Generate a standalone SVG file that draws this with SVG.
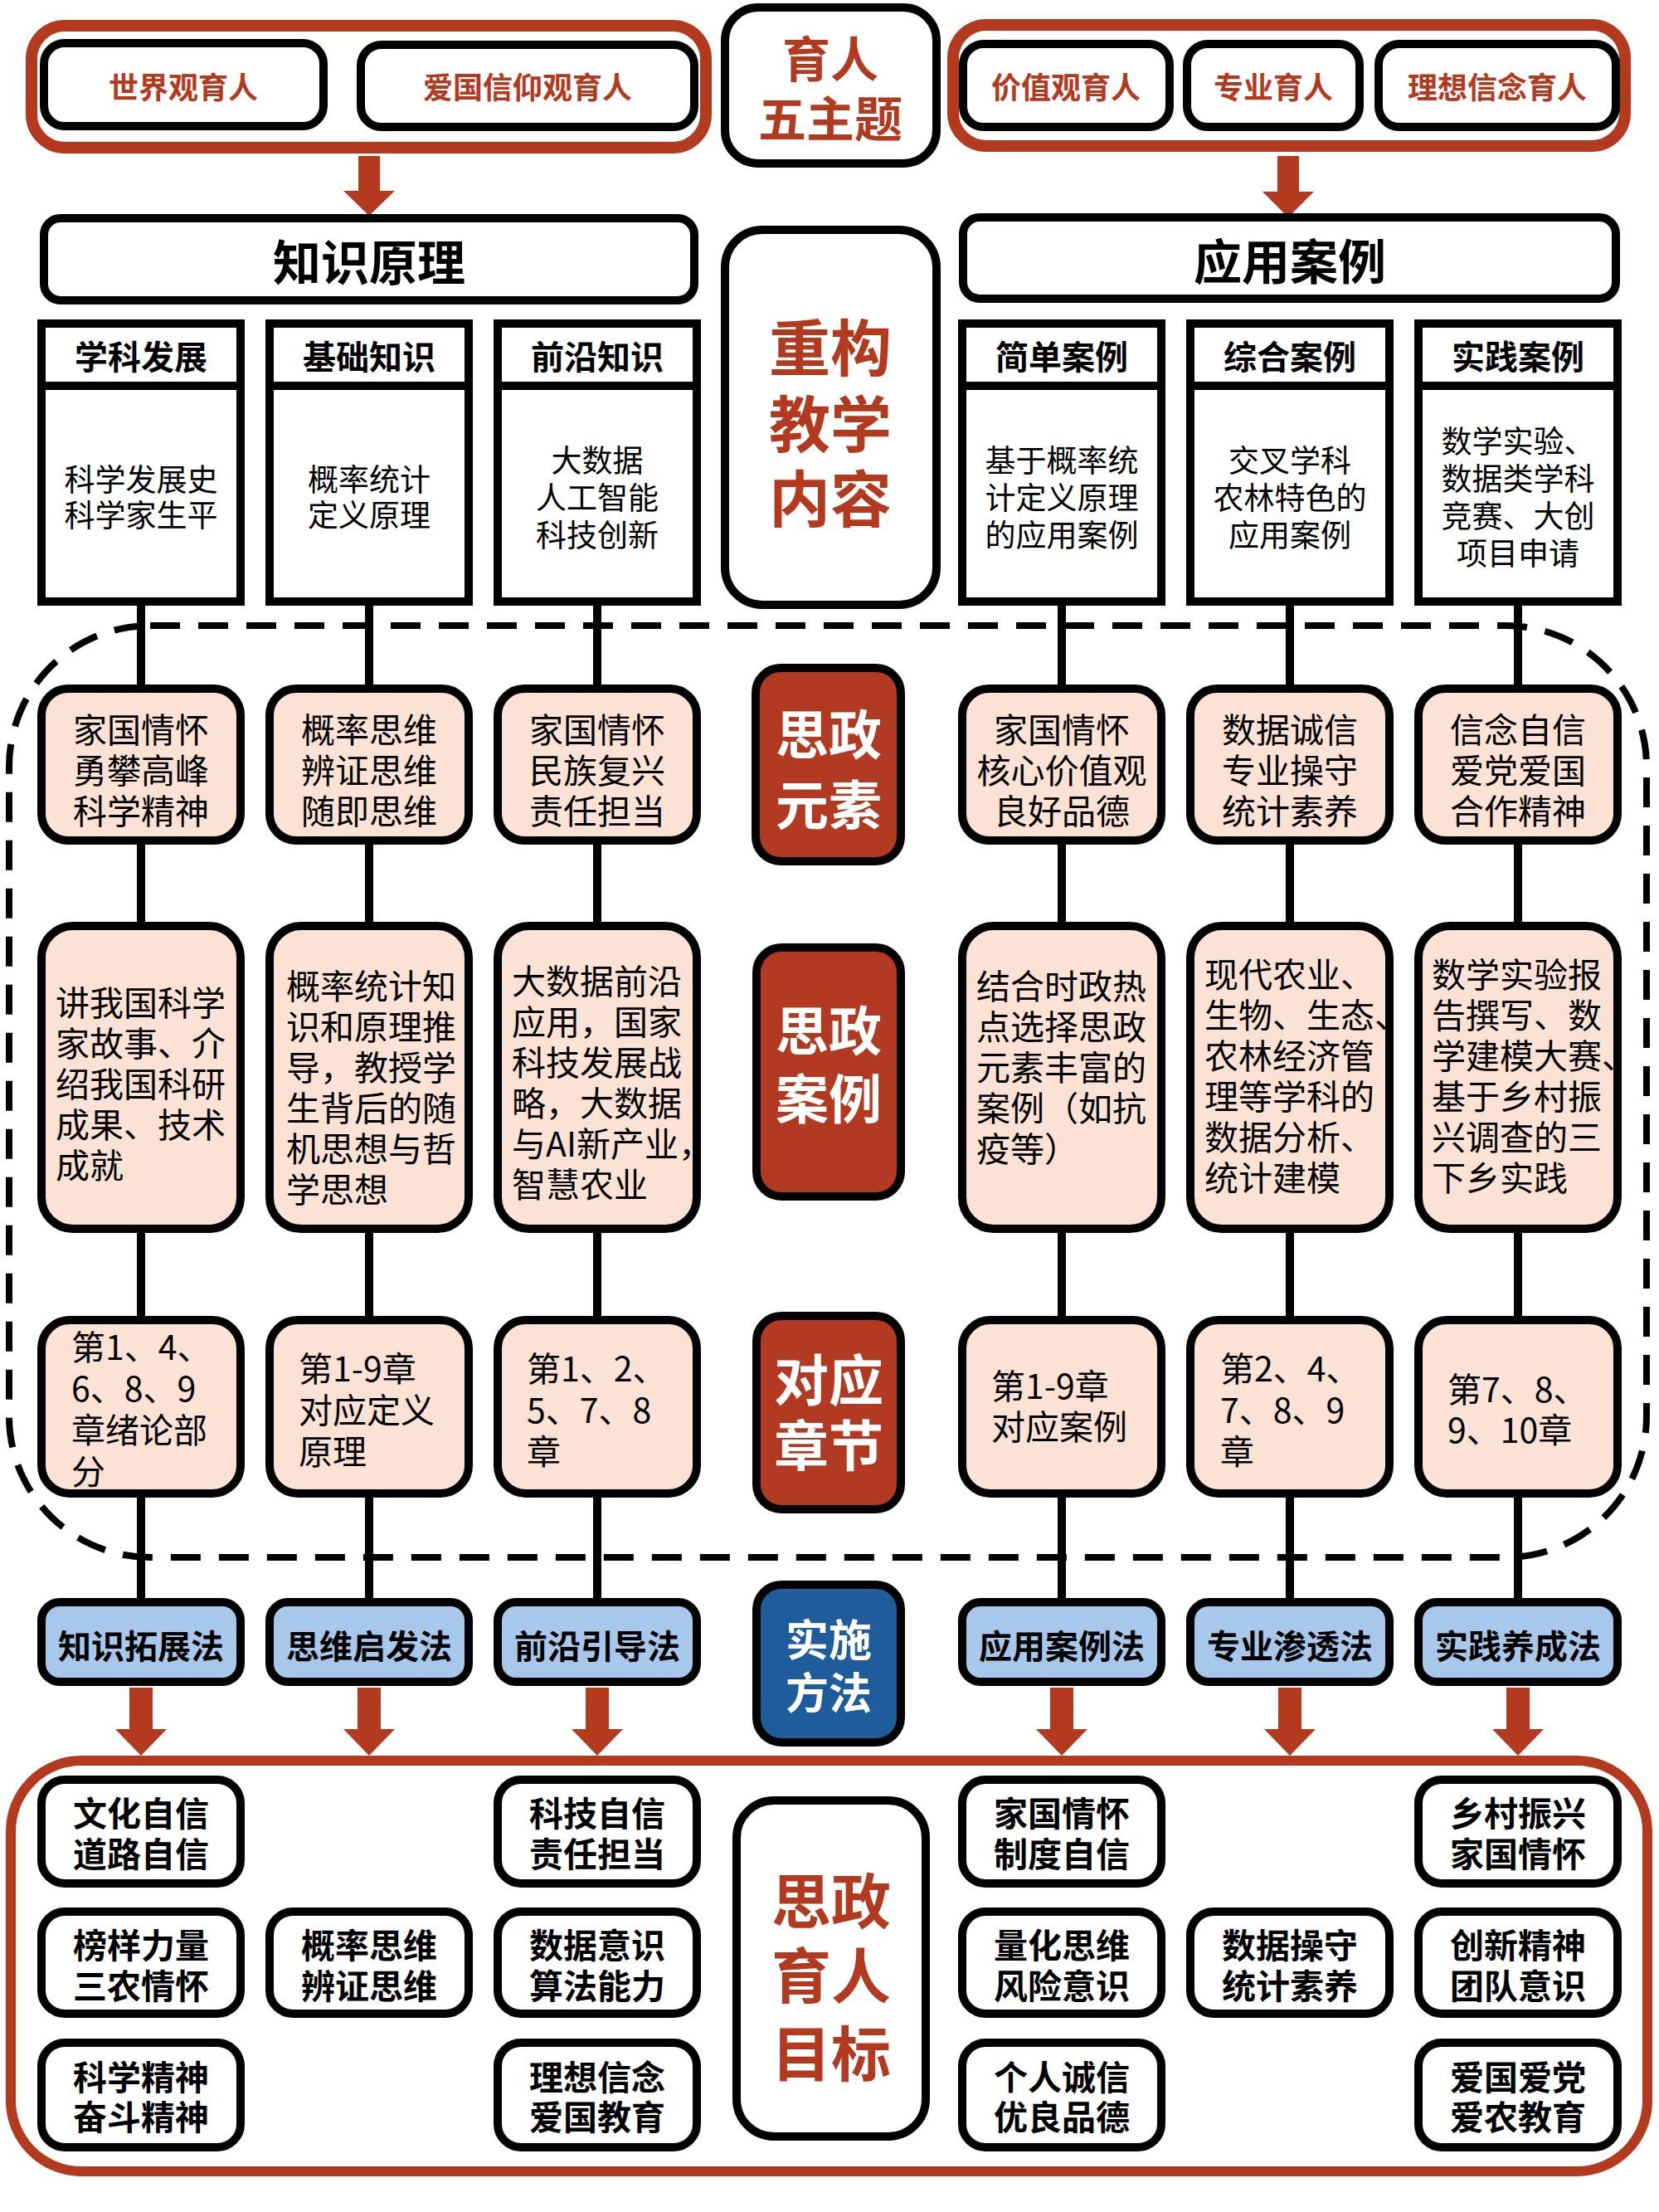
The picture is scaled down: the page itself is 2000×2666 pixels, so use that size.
<svg xmlns="http://www.w3.org/2000/svg" width="2000" height="2666" viewBox="0 0 2000 2666">
<style>
text{font-family:"Noto Sans CJK SC","Noto Sans",sans-serif;}
.b{font-weight:700}
.c{text-anchor:middle;dominant-baseline:central}
.l{dominant-baseline:central}
.rg{fill:none;stroke:#B3391F;stroke-width:14}
.bx{fill:#fff;stroke:#000;stroke-width:10}
.pk{fill:#FBE2D5;stroke:#000;stroke-width:10}
.bl{fill:#A7C8EA;stroke:#000;stroke-width:10}
.dr{fill:#B23A22;stroke:#000;stroke-width:10}
.db{fill:#1F5C9B;stroke:#000;stroke-width:10}
.conn{stroke:#000;stroke-width:10;fill:none}
.dash{fill:none;stroke:#000;stroke-width:8;stroke-dasharray:36 22}
.arr{fill:#B3391F}
.red{fill:#B3391F}
.wh{fill:#fff}
.s36{font-size:36px}.s37{font-size:37px}.s40{font-size:40px}.s41{font-size:41px}
</style>

<!-- background -->
<rect x="0" y="0" width="2000" height="2666" fill="#fff"/>

<!-- dashed region and connectors -->
<g id="connectors">
<rect class="dash" x="11" y="754" width="1974" height="1123" rx="170"/>
<line class="conn" x1="170" y1="730" x2="170" y2="1931"/>
<line class="conn" x1="445" y1="730" x2="445" y2="1931"/>
<line class="conn" x1="720" y1="730" x2="720" y2="1931"/>
<line class="conn" x1="1280" y1="730" x2="1280" y2="1931"/>
<line class="conn" x1="1555" y1="730" x2="1555" y2="1931"/>
<line class="conn" x1="1830" y1="730" x2="1830" y2="1931"/>
<polygon class="arr" points="432,188 458,188 458,230 476,230 445,260 414,230 432,230"/>
<polygon class="arr" points="1540,188 1566,188 1566,231 1584,231 1553,262 1522,231 1540,231"/>
<polygon class="arr" points="156,2034 184,2034 184,2084 201,2084 170,2116 139,2084 156,2084"/>
<polygon class="arr" points="431,2034 459,2034 459,2084 476,2084 445,2116 414,2084 431,2084"/>
<polygon class="arr" points="706,2034 734,2034 734,2084 751,2084 720,2116 689,2084 706,2084"/>
<polygon class="arr" points="1266,2034 1294,2034 1294,2084 1311,2084 1280,2116 1249,2084 1266,2084"/>
<polygon class="arr" points="1541,2034 1569,2034 1569,2084 1586,2084 1555,2116 1524,2084 1541,2084"/>
<polygon class="arr" points="1816,2034 1844,2034 1844,2084 1861,2084 1830,2116 1799,2084 1816,2084"/>
</g>

<!-- top groups -->
<g id="theme-left">
<rect class="rg" x="38" y="31" width="813" height="147" rx="40"/>
<rect class="bx" x="53" y="52" width="337" height="100" rx="25"/>
<text class="b c red" x="221" y="103" font-size="36">世界观育人</text>
<rect class="bx" x="435" y="54" width="402" height="99" rx="25"/>
<text class="b c red" x="636" y="103" font-size="36">爱国信仰观育人</text>
</g>
<g id="theme-center">
<rect class="bx" x="874" y="9" width="255" height="188" rx="40"/>
<text class="b c red" x="1001" y="68" font-size="58">育人</text>
<text class="b c red" x="1001" y="140" font-size="58">五主题</text>
</g>
<g id="theme-right">
<rect class="rg" x="1149" y="30" width="810" height="146" rx="40"/>
<rect class="bx" x="1161" y="53" width="249" height="100" rx="25"/>
<text class="b c red" x="1285" y="103" font-size="36">价值观育人</text>
<rect class="bx" x="1431" y="53" width="208" height="100" rx="25"/>
<text class="b c red" x="1535" y="103" font-size="36">专业育人</text>
<rect class="bx" x="1662" y="53" width="286" height="100" rx="25"/>
<text class="b c red" x="1805" y="103" font-size="36">理想信念育人</text>
</g>

<!-- section headers -->
<g id="knowledge">
<rect class="bx" x="53" y="263" width="784" height="99" rx="20"/>
<text class="b c" x="445" y="313" font-size="58">知识原理</text>
</g>
<g id="application">
<rect class="bx" x="1161" y="262" width="787" height="98" rx="20"/>
<text class="b c" x="1555" y="312" font-size="58">应用案例</text>
</g>
<g id="content-center">
<rect class="bx" x="874" y="277" width="255" height="452" rx="45"/>
<text class="b c red" x="1001" y="414" font-size="74">重构</text>
<text class="b c red" x="1001" y="506" font-size="74">教学</text>
<text class="b c red" x="1001" y="596" font-size="74">内容</text>
</g>

<!-- content columns -->
<g id="col1-content">
<rect class="bx" x="50" y="390" width="240" height="335"/>
<line class="conn" x1="50" y1="465" x2="290" y2="465"/>
<text class="b c s40" x="170" y="428">学科发展</text>
<text class="c s37" x="170" y="576">科学发展史</text>
<text class="c s37" x="170" y="619">科学家生平</text>
</g>
<g id="col2-content">
<rect class="bx" x="325" y="390" width="240" height="335"/>
<line class="conn" x1="325" y1="465" x2="565" y2="465"/>
<text class="b c s40" x="445" y="428">基础知识</text>
<text class="c s37" x="445" y="576">概率统计</text>
<text class="c s37" x="445" y="619">定义原理</text>
</g>
<g id="col3-content">
<rect class="bx" x="600" y="390" width="240" height="335"/>
<line class="conn" x1="600" y1="465" x2="840" y2="465"/>
<text class="b c s40" x="720" y="428">前沿知识</text>
<text class="c s37" x="720" y="553">大数据</text>
<text class="c s37" x="720" y="598">人工智能</text>
<text class="c s37" x="720" y="643">科技创新</text>
</g>
<g id="col4-content">
<rect class="bx" x="1160" y="390" width="240" height="335"/>
<line class="conn" x1="1160" y1="465" x2="1400" y2="465"/>
<text class="b c s40" x="1280" y="428">简单案例</text>
<text class="c s37" x="1280" y="553">基于概率统</text>
<text class="c s37" x="1280" y="598">计定义原理</text>
<text class="c s37" x="1280" y="643">的应用案例</text>
</g>
<g id="col5-content">
<rect class="bx" x="1435" y="390" width="240" height="335"/>
<line class="conn" x1="1435" y1="465" x2="1675" y2="465"/>
<text class="b c s40" x="1555" y="428">综合案例</text>
<text class="c s37" x="1555" y="553">交叉学科</text>
<text class="c s37" x="1555" y="598">农林特色的</text>
<text class="c s37" x="1555" y="643">应用案例</text>
</g>
<g id="col6-content">
<rect class="bx" x="1710" y="390" width="240" height="335"/>
<line class="conn" x1="1710" y1="465" x2="1950" y2="465"/>
<text class="b c s40" x="1830" y="428">实践案例</text>
<text class="c s37" x="1830" y="530">数学实验、</text>
<text class="c s37" x="1830" y="575">数据类学科</text>
<text class="c s37" x="1830" y="620">竞赛、大创</text>
<text class="c s37" x="1830" y="665">项目申请</text>
</g>

<!-- ideological elements row -->
<g id="elements-center">
<rect class="dr" x="911" y="805" width="175" height="233" rx="30"/>
<text class="b c wh" x="999" y="881" font-size="64">思政</text>
<text class="b c wh" x="999" y="966" font-size="64">元素</text>
</g>
<g id="el1">
<rect class="pk" x="50" y="830" width="240" height="183" rx="32"/>
<text class="c s41" x="170" y="877">家国情怀</text>
<text class="c s41" x="170" y="926">勇攀高峰</text>
<text class="c s41" x="170" y="975">科学精神</text>
</g>
<g id="el2">
<rect class="pk" x="325" y="830" width="240" height="183" rx="32"/>
<text class="c s41" x="445" y="877">概率思维</text>
<text class="c s41" x="445" y="926">辨证思维</text>
<text class="c s41" x="445" y="975">随即思维</text>
</g>
<g id="el3">
<rect class="pk" x="600" y="830" width="240" height="183" rx="32"/>
<text class="c s41" x="720" y="877">家国情怀</text>
<text class="c s41" x="720" y="926">民族复兴</text>
<text class="c s41" x="720" y="975">责任担当</text>
</g>
<g id="el4">
<rect class="pk" x="1160" y="830" width="240" height="183" rx="32"/>
<text class="c s41" x="1280" y="877">家国情怀</text>
<text class="c s41" x="1280" y="926">核心价值观</text>
<text class="c s41" x="1280" y="975">良好品德</text>
</g>
<g id="el5">
<rect class="pk" x="1435" y="830" width="240" height="183" rx="32"/>
<text class="c s41" x="1555" y="877">数据诚信</text>
<text class="c s41" x="1555" y="926">专业操守</text>
<text class="c s41" x="1555" y="975">统计素养</text>
</g>
<g id="el6">
<rect class="pk" x="1710" y="830" width="240" height="183" rx="32"/>
<text class="c s41" x="1830" y="877">信念自信</text>
<text class="c s41" x="1830" y="926">爱党爱国</text>
<text class="c s41" x="1830" y="975">合作精神</text>
</g>

<!-- cases row -->
<g id="cases-center">
<rect class="dr" x="912" y="1142" width="174" height="300" rx="30"/>
<text class="b c wh" x="999" y="1238" font-size="64">思政</text>
<text class="b c wh" x="999" y="1320" font-size="64">案例</text>
</g>
<g id="case1">
<rect class="pk" x="50" y="1116" width="240" height="365" rx="38"/>
<text class="l s41" x="67" y="1206">讲我国科学</text>
<text class="l s41" x="67" y="1255">家故事、介</text>
<text class="l s41" x="67" y="1304">绍我国科研</text>
<text class="l s41" x="67" y="1353">成果、技术</text>
<text class="l s41" x="67" y="1402">成就</text>
</g>
<g id="case2">
<rect class="pk" x="325" y="1116" width="240" height="365" rx="38"/>
<text class="l s41" x="345" y="1186">概率统计知</text>
<text class="l s41" x="345" y="1235">识和原理推</text>
<text class="l s41" x="345" y="1284">导，教授学</text>
<text class="l s41" x="345" y="1333">生背后的随</text>
<text class="l s41" x="345" y="1382">机思想与哲</text>
<text class="l s41" x="345" y="1431">学思想</text>
</g>
<g id="case3">
<rect class="pk" x="600" y="1116" width="240" height="365" rx="38"/>
<text class="l s41" x="617" y="1180">大数据前沿</text>
<text class="l s41" x="617" y="1229">应用，国家</text>
<text class="l s41" x="617" y="1278">科技发展战</text>
<text class="l s41" x="617" y="1327">略，大数据</text>
<text class="l s41" x="617" y="1376">与AI新产业，</text>
<text class="l s41" x="617" y="1425">智慧农业</text>
</g>
<g id="case4">
<rect class="pk" x="1160" y="1116" width="240" height="365" rx="38"/>
<text class="l s41" x="1177" y="1186">结合时政热</text>
<text class="l s41" x="1177" y="1235">点选择思政</text>
<text class="l s41" x="1177" y="1284">元素丰富的</text>
<text class="l s41" x="1177" y="1333">案例（如抗</text>
<text class="l s41" x="1177" y="1382">疫等）</text>
</g>
<g id="case5">
<rect class="pk" x="1435" y="1116" width="240" height="365" rx="38"/>
<text class="l s41" x="1452" y="1172">现代农业、</text>
<text class="l s41" x="1452" y="1221">生物、生态、</text>
<text class="l s41" x="1452" y="1270">农林经济管</text>
<text class="l s41" x="1452" y="1319">理等学科的</text>
<text class="l s41" x="1452" y="1368">数据分析、</text>
<text class="l s41" x="1452" y="1417">统计建模</text>
</g>
<g id="case6">
<rect class="pk" x="1710" y="1116" width="240" height="365" rx="38"/>
<text class="l s41" x="1726" y="1172">数学实验报</text>
<text class="l s41" x="1726" y="1221">告撰写、数</text>
<text class="l s41" x="1726" y="1270">学建模大赛、</text>
<text class="l s41" x="1726" y="1319">基于乡村振</text>
<text class="l s41" x="1726" y="1368">兴调查的三</text>
<text class="l s41" x="1726" y="1417">下乡实践</text>
</g>

<!-- chapters row -->
<g id="chapters-center">
<rect class="dr" x="912" y="1586" width="174" height="233" rx="30"/>
<text class="b c wh" x="999" y="1659" font-size="66">对应</text>
<text class="b c wh" x="999" y="1738" font-size="66">章节</text>
</g>
<g id="ch1">
<rect class="pk" x="50" y="1591" width="240" height="209" rx="34"/>
<text class="l s41" x="86" y="1621">第1、4、</text>
<text class="l s41" x="86" y="1671">6、8、9</text>
<text class="l s41" x="86" y="1721">章绪论部</text>
<text class="l s41" x="86" y="1771">分</text>
</g>
<g id="ch2">
<rect class="pk" x="325" y="1591" width="240" height="209" rx="34"/>
<text class="l s41" x="360" y="1647">第1-9章</text>
<text class="l s41" x="360" y="1697">对应定义</text>
<text class="l s41" x="360" y="1747">原理</text>
</g>
<g id="ch3">
<rect class="pk" x="600" y="1591" width="240" height="209" rx="34"/>
<text class="l s41" x="635" y="1647">第1、2、</text>
<text class="l s41" x="635" y="1697">5、7、8</text>
<text class="l s41" x="635" y="1747">章</text>
</g>
<g id="ch4">
<rect class="pk" x="1160" y="1591" width="240" height="209" rx="34"/>
<text class="l s41" x="1195" y="1668">第1-9章</text>
<text class="l s41" x="1195" y="1717">对应案例</text>
</g>
<g id="ch5">
<rect class="pk" x="1435" y="1591" width="240" height="209" rx="34"/>
<text class="l s41" x="1471" y="1647">第2、4、</text>
<text class="l s41" x="1471" y="1697">7、8、9</text>
<text class="l s41" x="1471" y="1747">章</text>
</g>
<g id="ch6">
<rect class="pk" x="1710" y="1591" width="240" height="209" rx="34"/>
<text class="l s41" x="1745" y="1672">第7、8、</text>
<text class="l s41" x="1745" y="1721">9、10章</text>
</g>

<!-- methods row -->
<g id="methods-center">
<rect class="db" x="912" y="1910" width="174" height="190" rx="30"/>
<text class="b c wh" x="999" y="1973" font-size="52">实施</text>
<text class="b c wh" x="999" y="2037" font-size="52">方法</text>
</g>
<g id="m1"><rect class="bl" x="50" y="1931" width="240" height="96" rx="22"/><text class="b c s40" x="170" y="1982">知识拓展法</text></g>
<g id="m2"><rect class="bl" x="325" y="1931" width="240" height="96" rx="22"/><text class="b c s40" x="445" y="1982">思维启发法</text></g>
<g id="m3"><rect class="bl" x="600" y="1931" width="240" height="96" rx="22"/><text class="b c s40" x="720" y="1982">前沿引导法</text></g>
<g id="m4"><rect class="bl" x="1160" y="1931" width="240" height="96" rx="22"/><text class="b c s40" x="1280" y="1982">应用案例法</text></g>
<g id="m5"><rect class="bl" x="1435" y="1931" width="240" height="96" rx="22"/><text class="b c s40" x="1555" y="1982">专业渗透法</text></g>
<g id="m6"><rect class="bl" x="1710" y="1931" width="240" height="96" rx="22"/><text class="b c s40" x="1830" y="1982">实践养成法</text></g>

<!-- goals -->
<g id="goals">
<rect class="rg" x="13" y="2122" width="1973" height="495" rx="85" style="stroke-width:12"/>
</g>
<g id="goals-center">
<rect class="bx" x="888" y="2170" width="228" height="405" rx="45"/>
<text class="b c red" x="1002" y="2286" font-size="72">思政</text>
<text class="b c red" x="1002" y="2376" font-size="72">育人</text>
<text class="b c red" x="1002" y="2470" font-size="72">目标</text>
</g>
<g id="g1a"><rect class="bx" x="50" y="2145" width="240" height="125" rx="28"/><text class="b c s41" x="170" y="2183">文化自信</text><text class="b c s41" x="170" y="2232">道路自信</text></g>
<g id="g1b"><rect class="bx" x="50" y="2304" width="240" height="123" rx="28"/><text class="b c s41" x="170" y="2342">榜样力量</text><text class="b c s41" x="170" y="2391">三农情怀</text></g>
<g id="g1c"><rect class="bx" x="50" y="2462" width="240" height="126" rx="28"/><text class="b c s41" x="170" y="2501">科学精神</text><text class="b c s41" x="170" y="2549">奋斗精神</text></g>
<g id="g2b"><rect class="bx" x="325" y="2304" width="240" height="123" rx="28"/><text class="b c s41" x="445" y="2342">概率思维</text><text class="b c s41" x="445" y="2391">辨证思维</text></g>
<g id="g3a"><rect class="bx" x="600" y="2145" width="240" height="125" rx="28"/><text class="b c s41" x="720" y="2183">科技自信</text><text class="b c s41" x="720" y="2232">责任担当</text></g>
<g id="g3b"><rect class="bx" x="600" y="2304" width="240" height="123" rx="28"/><text class="b c s41" x="720" y="2342">数据意识</text><text class="b c s41" x="720" y="2391">算法能力</text></g>
<g id="g3c"><rect class="bx" x="600" y="2462" width="240" height="126" rx="28"/><text class="b c s41" x="720" y="2501">理想信念</text><text class="b c s41" x="720" y="2549">爱国教育</text></g>
<g id="g4a"><rect class="bx" x="1160" y="2145" width="240" height="125" rx="28"/><text class="b c s41" x="1280" y="2183">家国情怀</text><text class="b c s41" x="1280" y="2232">制度自信</text></g>
<g id="g4b"><rect class="bx" x="1160" y="2304" width="240" height="123" rx="28"/><text class="b c s41" x="1280" y="2342">量化思维</text><text class="b c s41" x="1280" y="2391">风险意识</text></g>
<g id="g4c"><rect class="bx" x="1160" y="2462" width="240" height="126" rx="28"/><text class="b c s41" x="1280" y="2501">个人诚信</text><text class="b c s41" x="1280" y="2549">优良品德</text></g>
<g id="g5b"><rect class="bx" x="1435" y="2304" width="240" height="123" rx="28"/><text class="b c s41" x="1555" y="2342">数据操守</text><text class="b c s41" x="1555" y="2391">统计素养</text></g>
<g id="g6a"><rect class="bx" x="1710" y="2145" width="240" height="125" rx="28"/><text class="b c s41" x="1830" y="2183">乡村振兴</text><text class="b c s41" x="1830" y="2232">家国情怀</text></g>
<g id="g6b"><rect class="bx" x="1710" y="2304" width="240" height="123" rx="28"/><text class="b c s41" x="1830" y="2342">创新精神</text><text class="b c s41" x="1830" y="2391">团队意识</text></g>
<g id="g6c"><rect class="bx" x="1710" y="2462" width="240" height="126" rx="28"/><text class="b c s41" x="1830" y="2501">爱国爱党</text><text class="b c s41" x="1830" y="2549">爱农教育</text></g>
</svg>
